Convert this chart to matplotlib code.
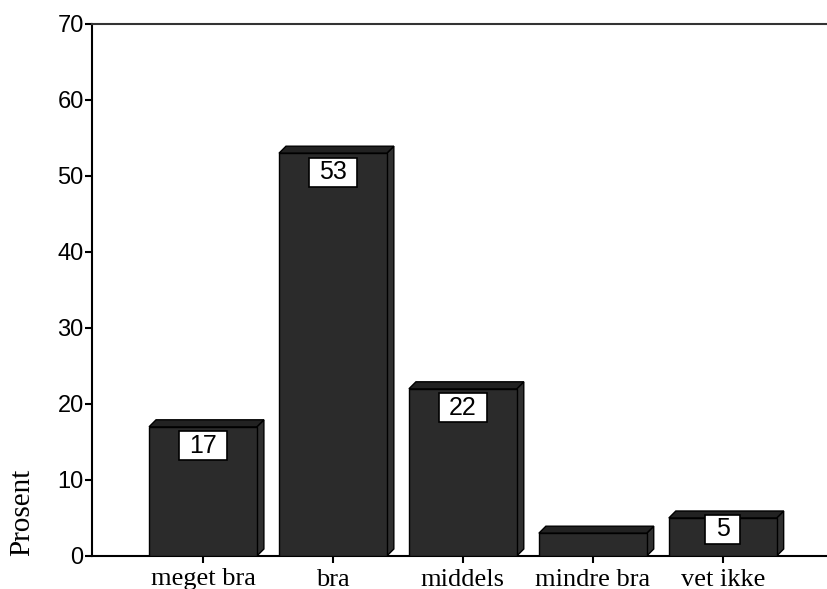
import matplotlib
matplotlib.use("Agg")
import matplotlib.pyplot as plt
from matplotlib.patches import Polygon, Rectangle

categories = ["meget bra", "bra", "middels", "mindre bra", "vet ikke"]
values = [17, 53, 22, 3, 5]
labelled = [True, True, True, False, True]
yticks = [0, 10, 20, 30, 40, 50, 60, 70]

fig = plt.figure(figsize=(8.28, 5.89), dpi=100)
ax = fig.add_axes([92 / 828, 1 - 556 / 589, 1 - 92 / 828, (556 - 24) / 589])
ax.set_xlim(-0.854, 4.81)
ax.set_ylim(0, 70)

# pixel-per-unit conversions for the 3D depth of the boxes
px_x = 130.0
px_y = 532 / 70
dx = 7 / px_x
dy = 7 / px_y
w = 0.83

front_c = "#2b2b2b"
top_c = "#222222"
side_c = "#303030"

for i, v in enumerate(values):
    x0, x1 = i - w / 2, i + w / 2
    # right side face
    ax.add_patch(Polygon([(x1, 0), (x1 + dx, dy), (x1 + dx, v + dy), (x1, v)],
                         closed=True, facecolor=side_c, edgecolor="black",
                         linewidth=1.0, zorder=2))
    # top face
    ax.add_patch(Polygon([(x0, v), (x0 + dx, v + dy), (x1 + dx, v + dy), (x1, v)],
                         closed=True, facecolor=top_c, edgecolor="black",
                         linewidth=1.0, zorder=2))
    # front face
    ax.add_patch(Rectangle((x0, 0), w, v, facecolor=front_c, edgecolor="black",
                           linewidth=1.0, zorder=3))
    if labelled[i]:
        txt = f"{v}"
        bw = (len(txt) * 13 + 22) / px_x
        bh = 29 / px_y
        off = min(2.5, v * 0.3)
        ax.add_patch(Rectangle((i - bw / 2, v - off - bh / 2), bw, bh,
                               facecolor="white", edgecolor="black",
                               linewidth=1.2, zorder=4))
        ax.text(i, v - off, txt, ha="center", va="center",
                fontsize=18, family="Liberation Sans", color="black", zorder=5)

ax.set_xticks(range(len(categories)))
ax.set_xticklabels(categories, family="Liberation Serif", fontsize=19)
ax.set_yticks(yticks)
ax.set_yticklabels([str(t) for t in yticks], family="Liberation Sans", fontsize=17)
ax.tick_params(axis="both", direction="out", length=5, width=1.5, color="black", pad=1)
ax.tick_params(axis="x", pad=4)

for s in ["left", "bottom", "top"]:
    ax.spines[s].set_linewidth(1.5)
    ax.spines[s].set_color("black")
ax.spines["top"].set_color("#333333")
ax.spines["right"].set_visible(False)

fig.text(22 / 828, 1 - 512 / 589, "Prosent", rotation=90, ha="center", va="center",
         family="Liberation Serif", fontsize=21)

fig.savefig("out.png", dpi=100)
